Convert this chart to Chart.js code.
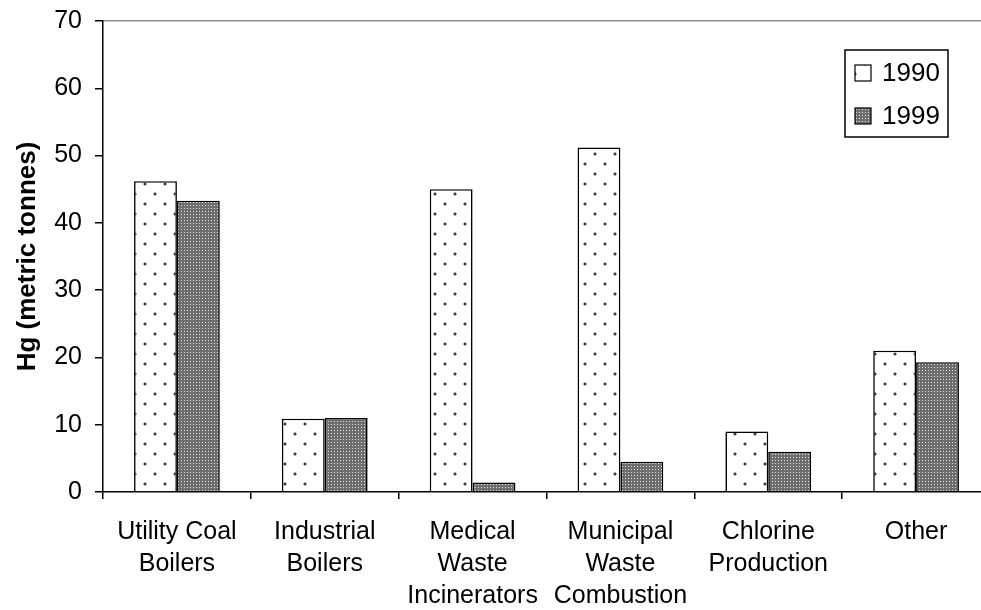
<!DOCTYPE html>
<html>
<head>
<meta charset="utf-8">
<script src="https://cdn.jsdelivr.net/npm/chart.js@4.4.1/dist/chart.umd.min.js"></script>
<style>
  html, body { margin: 0; padding: 0; background: #fff; overflow: hidden; }
  #wrap { width: 1000px; height: 610px; }
</style>
</head>
<body>
<div id="wrap"><canvas id="c" width="1000" height="610"></canvas></div>
<script>
// Mercury emissions by source category, 1990 vs 1999
const categories = [
  ['Utility Coal', 'Boilers'],
  ['Industrial', 'Boilers'],
  ['Medical', 'Waste', 'Incinerators'],
  ['Municipal', 'Waste', 'Combustion'],
  ['Chlorine', 'Production'],
  ['Other']
];
const seriesNames = ['1990', '1999'];
const values1990 = [46.2, 10.9, 45.0, 51.2, 9.0, 21.0];
const values1999 = [43.3, 11.0, 1.4, 4.5, 6.0, 19.3];
const yTickValues = [0, 10, 20, 30, 40, 50, 60, 70];

const FONT = '"Liberation Sans", Arial, sans-serif';

// sparse dot fill
function dotPattern() {
  const t = document.createElement('canvas');
  t.width = 20; t.height = 20;
  const g = t.getContext('2d');
  g.fillStyle = '#ffffff';
  g.fillRect(0, 0, 20, 20);
  [[4, 3], [14, 13]].forEach(([px, py]) => {
    g.fillStyle = '#b4b4b4';
    g.fillRect(px - 1, py, 4, 2);
    g.fillRect(px, py - 1, 2, 4);
    g.fillStyle = '#3c3c3c';
    g.fillRect(px, py, 2, 2);
  });
  return g.createPattern(t, 'repeat');
}
// fine dark mesh fill
function meshPattern() {
  const t = document.createElement('canvas');
  t.width = 3; t.height = 3;
  const g = t.getContext('2d');
  g.fillStyle = '#6e6e6e';
  g.fillRect(0, 0, 3, 3);
  g.fillStyle = '#e0e0e0';
  g.fillRect(1, 1, 1, 1);
  return g.createPattern(t, 'repeat');
}

const fill1990 = dotPattern();
const fill1999 = meshPattern();

// legend box drawn inside the plot area, upper right
const boxLegend = {
  id: 'boxLegend',
  afterDraw(chart) {
    const ctx = chart.ctx;
    const x = 845, y = 50, w = 103, h = 87;
    ctx.save();
    ctx.fillStyle = '#fff';
    ctx.fillRect(x, y, w, h);
    ctx.strokeStyle = '#000';
    ctx.lineWidth = 1.5;
    ctx.strokeRect(x, y, w, h);
    ctx.font = '26px ' + FONT;
    ctx.textBaseline = 'middle';
    chart.data.datasets.forEach((ds, i) => {
      const cy = y + 23 + i * 43;
      ctx.fillStyle = ds.backgroundColor;
      ctx.fillRect(x + 10, cy - 8, 16, 16);
      ctx.strokeStyle = '#000';
      ctx.lineWidth = 1.2;
      ctx.strokeRect(x + 10, cy - 8, 16, 16);
      ctx.fillStyle = '#000';
      ctx.fillText(ds.label, x + 37, cy + 1);
    });
    ctx.restore();
  }
};

new Chart(document.getElementById('c'), {
  type: 'bar',
  data: {
    labels: categories,
    datasets: [
      { label: seriesNames[0], data: values1990, backgroundColor: fill1990,
        borderColor: '#000', borderWidth: 1.6 },
      { label: seriesNames[1], data: values1999, backgroundColor: fill1999,
        borderColor: '#000', borderWidth: 1.6 }
    ]
  },
  options: {
    responsive: false,
    animation: false,
    events: [],
    layout: { padding: { top: 21, right: 10, left: 0, bottom: 0 } },
    datasets: { bar: { categoryPercentage: 0.58, barPercentage: 1.0 } },
    plugins: { legend: { display: false }, tooltip: { enabled: false } },
    scales: {
      x: {
        grid: { offset: true, color: 'transparent', tickColor: '#000', tickLength: 7, lineWidth: 1.5 },
        border: { color: '#000', width: 1.5 },
        ticks: { color: '#000', font: { family: FONT, size: 25, lineHeight: 1.28 }, padding: 17, maxRotation: 0, autoSkip: false },
        afterFit(s) { s.height = 118; s.paddingLeft = 0; s.paddingRight = 0; }
      },
      y: {
        min: 0, max: 70,
        afterBuildTicks(s) { s.ticks = yTickValues.map(v => ({ value: v })); },
        grid: {
          color: c => (c.tick && c.tick.value === 70 ? '#8c8c8c' : 'transparent'),
          tickColor: '#000', tickLength: 8, lineWidth: 1.5
        },
        border: { color: '#000', width: 1.5 },
        ticks: { color: '#000', font: { family: FONT, size: 25 }, padding: 13 },
        title: { display: true, text: 'Hg (metric tonnes)', color: '#000',
                 font: { family: FONT, size: 26, weight: 'bold' }, padding: { top: 12, bottom: 0 } },
        afterFit(s) { s.width = 103; s.paddingTop = 0; s.paddingBottom = 0; }
      }
    }
  },
  plugins: [boxLegend]
});
</script>
</body>
</html>
